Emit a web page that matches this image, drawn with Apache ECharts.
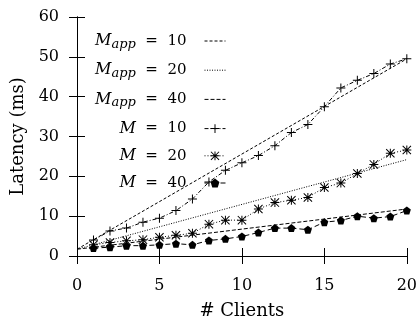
<!DOCTYPE html>
<html>
<head>
<meta charset="utf-8">
<script src="https://cdn.jsdelivr.net/npm/echarts@6/dist/echarts.min.js"></script>
<style>
  html, body { margin: 0; padding: 0; background: #fff; }
  #chart { width: 420px; height: 325px; }
</style>
</head>
<body>
<div id="chart"></div>
<script>
// measured clients (x)
var clients = [1, 2, 3, 4, 5, 6, 7, 8, 9, 10, 11, 12, 13, 14, 15, 16, 17, 18, 19, 20];
var m10 = [4.0, 6.3, 7.0, 8.5, 9.5, 11.4, 14.3, 18.6, 21.5, 23.4, 25.2, 27.7, 31.0, 33.0, 37.5, 42.2, 44.1, 45.8, 48.2, 49.5];
var m20 = [2.8, 3.4, 3.8, 4.1, 4.7, 5.2, 5.7, 8.0, 9.0, 9.0, 11.8, 13.4, 14.0, 14.7, 17.2, 18.3, 20.7, 23.0, 25.8, 26.6];
var m40 = [2.0, 2.2, 2.6, 2.6, 2.8, 3.1, 2.8, 3.9, 4.3, 4.9, 5.9, 7.0, 7.0, 6.6, 8.5, 8.9, 10.0, 9.5, 9.9, 11.4];

// model lines (endpoints)
var modelX = [0, 20];
var mApp10 = [1.7, 49.5];
var mApp20 = [1.7, 24.2];
var mApp40 = [1.7, 11.8];

var FONT = "DejaVu Serif";

var plusPath = "path://M4,0 h1 v4 h4 v1 h-4 v4 h-1 v-4 h-4 v-1 h4 z";
var starPath = "path://M4,0 h1 v4 h4 v1 h-4 v4 h-1 v-4 h-4 v-1 h4 z" +
  "M0,0.7 L0.7,0 L9,8.3 L8.3,9 Z M8.3,0 L9,0.7 L0.7,9 L0,8.3 Z";
var pentPath = "path://M5,0 L10,3.6 L8.1,9.5 L1.9,9.5 L0,3.6 Z";
// practically invisible mark, so the legend shows only the line for model curves
var blankPath = "path://M0,0 L0.01,0 L0,0.01 Z M10,10 L10.01,10 L10,10.01 Z";

function pairs(xs, ys) {
  return xs.map(function (x, i) { return [x, ys[i]]; });
}

var legendText = {
  "Mapp10": "{i|M}{s|app}{n|  =  10}",
  "Mapp20": "{i|M}{s|app}{n|  =  20}",
  "Mapp40": "{i|M}{s|app}{n|  =  40}",
  "M10": "{i|M}{n|  =  10}",
  "M20": "{i|M}{n|  =  20}",
  "M40": "{i|M}{n|  =  40}"
};

var axisCommon = {
  axisLine: { lineStyle: { color: "#000", width: 1 } },
  axisTick: { inside: true, length: 8, lineStyle: { color: "#000", width: 1 } },
  splitLine: { show: false }
};

var chart = echarts.init(document.getElementById("chart"));
chart.setOption({
  animation: false,
  textStyle: { fontFamily: FONT },
  grid: { left: 77, right: 12, top: 17, bottom: 67 },
  legend: {
    orient: "vertical",
    align: "right",
    right: 194,
    top: 33,
    padding: 0,
    itemWidth: 21,
    itemHeight: 11,
    itemGap: 11.2,
    selectedMode: false,
    lineStyle: { width: 1 },
    data: ["Mapp10", "Mapp20", "Mapp40", "M10", "M20", "M40"],
    formatter: function (name) { return legendText[name]; },
    textStyle: {
      color: "#000",
      fontFamily: FONT,
      rich: {
        i: { fontFamily: FONT, fontStyle: "italic", fontSize: 16, lineHeight: 20, color: "#000" },
        s: { fontFamily: FONT, fontStyle: "italic", fontSize: 13, lineHeight: 10, verticalAlign: "bottom", color: "#000" },
        n: { fontFamily: FONT, fontSize: 15, lineHeight: 20, padding: [0, 13, 0, 0], color: "#000" }
      }
    }
  },
  xAxis: [
    Object.assign({
      type: "value", min: 0, max: 20, interval: 5, position: "bottom",
      name: "# Clients", nameLocation: "middle", nameGap: 46,
      nameTextStyle: { fontFamily: FONT, fontSize: 18, color: "#000" },
      axisLabel: { margin: 22, fontFamily: FONT, fontSize: 16, color: "#000" }
    }, axisCommon),
    Object.assign({
      type: "value", min: 0, max: 20, interval: 5, position: "top",
      axisLabel: { show: false }
    }, axisCommon)
  ],
  yAxis: [
    Object.assign({
      type: "value", min: 0, max: 60, interval: 10, position: "left",
      name: "Latency (ms)", nameLocation: "middle", nameGap: 50, nameRotate: 90,
      nameTextStyle: { fontFamily: FONT, fontSize: 18, color: "#000" },
      axisLabel: { margin: 18, fontFamily: FONT, fontSize: 16, color: "#000" }
    }, axisCommon),
    Object.assign({
      type: "value", min: 0, max: 60, interval: 10, position: "right",
      axisLabel: { show: false }
    }, axisCommon)
  ],
  series: [
    { name: "Mapp10", data: pairs(modelX, mApp10), symbol: blankPath, showSymbol: false, lineStyle: { type: [3, 2] } },
    { name: "Mapp20", data: pairs(modelX, mApp20), symbol: blankPath, showSymbol: false, lineStyle: { type: [1, 1.5] } },
    { name: "Mapp40", data: pairs(modelX, mApp40), symbol: blankPath, showSymbol: false, lineStyle: { type: [4, 2] } },
    { name: "M10", data: pairs(clients, m10), symbol: plusPath, symbolSize: 9, lineStyle: { type: [4, 2, 1, 2] } },
    { name: "M20", data: pairs(clients, m20), symbol: starPath, symbolSize: 9, lineStyle: { type: [1, 2] } },
    { name: "M40", data: pairs(clients, m40), symbol: pentPath, symbolSize: 8, lineStyle: { type: [5, 3] } }
  ].map(function (s) {
    return Object.assign({
      type: "line",
      showSymbol: true,
      color: "#000",
      itemStyle: { color: "#000" }
    }, s, {
      lineStyle: Object.assign({ color: "#000", width: 1 }, s.lineStyle)
    });
  })
});
</script>
</body>
</html>
